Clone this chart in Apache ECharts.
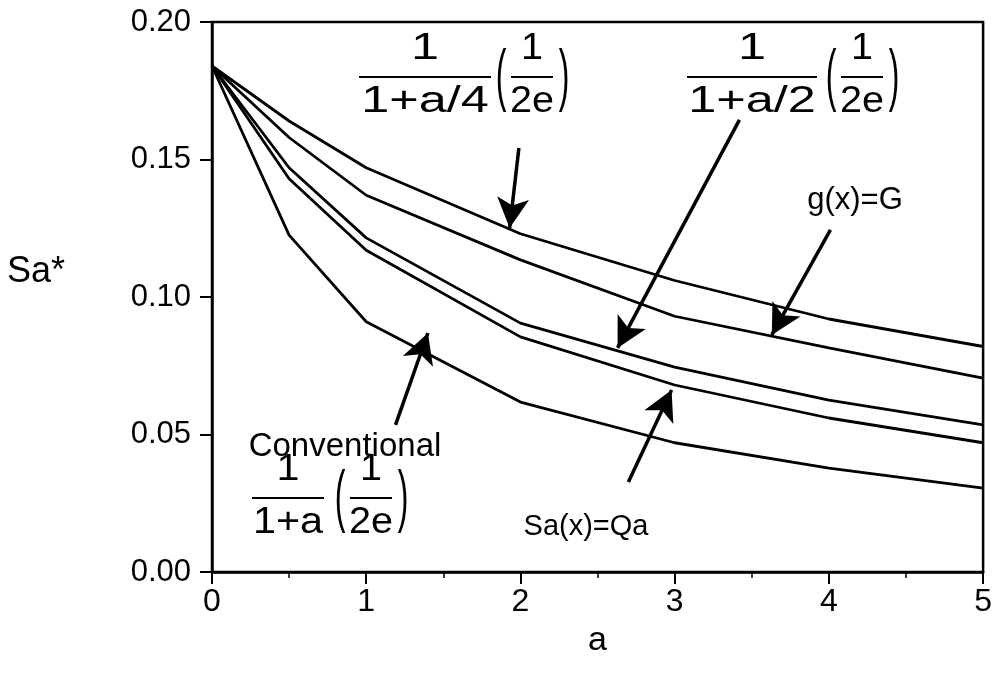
<!DOCTYPE html>
<html>
<head>
<meta charset="utf-8">
<script src="https://cdn.jsdelivr.net/npm/echarts@6/dist/echarts.min.js"></script>
<style>
  html, body { margin: 0; padding: 0; background: #fff; }
  #chart { width: 995px; height: 678px; }
</style>
</head>
<body>
<div id="chart"></div>
<script>
// values
const aValues = [0, 0.5, 1, 2, 3, 4, 5];
const quarterCurve = [0.184, 0.164, 0.147, 0.123, 0.106, 0.092, 0.082]; // 1/(1+a/4)(1/2e)
const gCurve = [0.184, 0.158, 0.137, 0.1135, 0.093, 0.0815, 0.0705];   // g(x)=G
const halfCurve = [0.184, 0.147, 0.1215, 0.0905, 0.0745, 0.0625, 0.0535]; // 1/(1+a/2)(1/2e)
const saCurve = [0.184, 0.143, 0.117, 0.0855, 0.068, 0.056, 0.047];    // Sa(x)=Qa
const convCurve = [0.184, 0.1225, 0.091, 0.0618, 0.047, 0.0378, 0.0305]; // conventional
const xTicks = [0, 1, 2, 3, 4, 5];
const yTicks = [0, 0.05, 0.1, 0.15, 0.2];

// arrows: [from, to] in data units
const arrows = [
  [[1.99, 0.1542], [1.93, 0.1251]],
  [[3.42, 0.1644], [2.63, 0.0815]],
  [[4.01, 0.1244], [3.63, 0.0862]],
  [[1.19, 0.0535], [1.40, 0.0869]],
  [[2.70, 0.0327], [2.98, 0.0662]]
];

const FONT = '"Liberation Sans", Arial, Helvetica, sans-serif';

const chart = echarts.init(document.getElementById('chart'));

function pairs(ys) {
  return aValues.map((a, i) => [a, ys[i]]);
}

function curve(name, ys) {
  return {
    name: name,
    type: 'line',
    data: pairs(ys),
    showSymbol: false,
    symbol: 'none',
    lineStyle: { color: '#000', width: 2.8 },
    silent: true
  };
}

// text helper for the annotations
function txt(x, y, s, size, sx) {
  return {
    type: 'text', x: x, y: y, scaleX: sx || 1, silent: true,
    style: { text: s, fontSize: size, fontFamily: FONT, fill: '#000', align: 'center', verticalAlign: 'middle' }
  };
}
function bar(x1, x2, y) {
  return { type: 'line', silent: true, shape: { x1: x1, y1: y, x2: x2, y2: y }, style: { stroke: '#000', lineWidth: 2.2 } };
}
function paren(x, y, s) {
  return {
    type: 'text', x: x, y: y, scaleY: 2.15, silent: true,
    style: { text: s, fontSize: 32, fontFamily: FONT, fill: '#000', align: 'center', verticalAlign: 'middle' }
  };
}
// 1/(den) (1/2e)
function fraction(cx, cy, den, w, sx, pcx) {
  return [
    txt(cx, cy - 28, '1', 36, sx),
    bar(cx - w / 2, cx + w / 2, cy),
    txt(cx, cy + 25, den, 36, sx),
    paren(pcx - 31, cy + 2, '('),
    txt(pcx, cy - 28, '1', 36, 1.1),
    bar(pcx - 21, pcx + 21, cy),
    txt(pcx, cy + 25, '2e', 36, 1.1),
    paren(pcx + 32, cy + 2, ')')
  ];
}

const graphics = [].concat(
  fraction(425, 77, '1+a/4', 132, 1.4, 532),
  fraction(752, 77, '1+a/2', 130, 1.4, 862),
  fraction(288, 498, '1+a', 72, 1.15, 371),
  [
    txt(345, 447, 'Conventional', 33),
    txt(855, 200, 'g(x)=G', 31),
    txt(586, 527, 'Sa(x)=Qa', 29),
    {
      type: 'text', x: 7, y: 272, silent: true,
      style: { text: 'Sa*', fontSize: 36, fontFamily: FONT, fill: '#000', align: 'left', verticalAlign: 'middle' }
    }
  ]
);

const series = [
  curve('quarter', quarterCurve),
  curve('g', gCurve),
  curve('half', halfCurve),
  curve('sa', saCurve),
  curve('conv', convCurve)
];
series[0].markLine = {
  silent: true,
  animation: false,
  symbol: ['none', 'arrow'],
  symbolSize: [24, 30],
  label: { show: false },
  lineStyle: { color: '#000', width: 3.5, type: 'solid' },
  emphasis: { disabled: true },
  data: arrows.map(ar => [{ coord: ar[0] }, { coord: ar[1] }])
};

const option = {
  animation: false,
  backgroundColor: '#fff',
  grid: {
    left: 212, right: 3, top: 22, bottom: 106,
    show: true, borderColor: '#000', borderWidth: 2.5, backgroundColor: 'transparent'
  },
  xAxis: {
    type: 'value',
    min: xTicks[0], max: xTicks[xTicks.length - 1], interval: 1,
    name: 'a', nameLocation: 'middle', nameGap: 52,
    nameTextStyle: { fontSize: 34, fontFamily: FONT, color: '#000' },
    axisLine: { onZero: false, lineStyle: { color: '#000', width: 2.5 } },
    axisTick: { show: true, inside: false, length: 12, lineStyle: { color: '#000', width: 2 } },
    minorTick: { show: true, splitNumber: 2, length: 6, lineStyle: { color: '#000', width: 1.5 } },
    axisLabel: { fontSize: 32, fontFamily: FONT, color: '#000', margin: 14 },
    splitLine: { show: false }
  },
  yAxis: {
    type: 'value',
    min: yTicks[0], max: yTicks[yTicks.length - 1], interval: 0.05,
    axisLine: { onZero: false, lineStyle: { color: '#000', width: 2.5 } },
    axisTick: { show: true, inside: false, length: 12, lineStyle: { color: '#000', width: 2 } },
    axisLabel: {
      fontSize: 31, fontFamily: FONT, color: '#000', margin: 21,
      formatter: v => v.toFixed(2)
    },
    splitLine: { show: false }
  },
  graphic: graphics,
  series: series
};

chart.setOption(option);
</script>
</body>
</html>
